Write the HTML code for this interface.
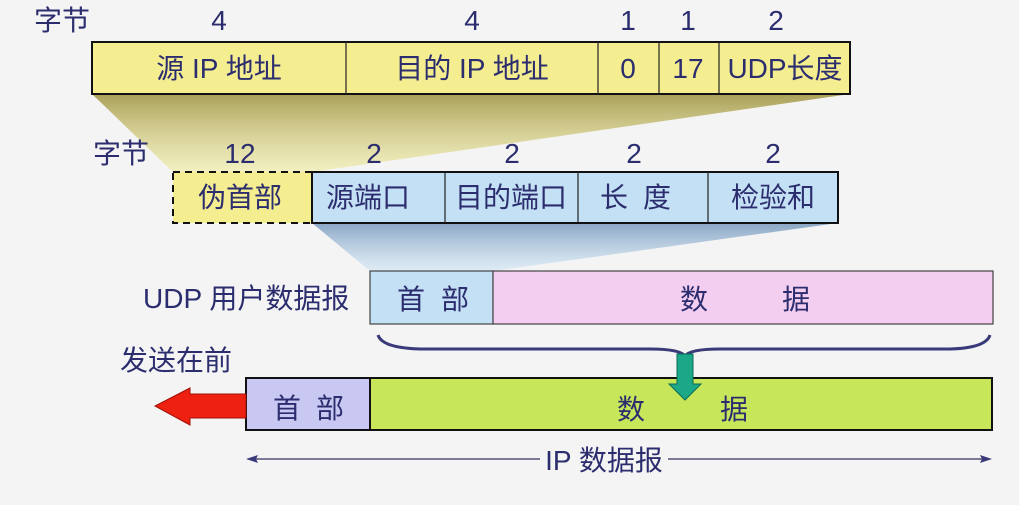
<!DOCTYPE html>
<html><head><meta charset="utf-8"><style>
html,body{margin:0;padding:0;background:#f4f4f4;}
svg{display:block}
text{font-family:"Liberation Sans","Noto Sans CJK SC",sans-serif;fill:#2b2d6e;font-size:28px;}
</style></head><body>
<svg width="1019" height="505" viewBox="0 0 1019 505">
<defs>
<linearGradient id="gy" x1="0" y1="0" x2="0" y2="1"><stop offset="0" stop-color="#aaa05a"/><stop offset="1" stop-color="#f0eca0" stop-opacity="0.6"/></linearGradient>
<linearGradient id="gb" x1="0" y1="0" x2="0" y2="1"><stop offset="0" stop-color="#8aa6c4"/><stop offset="1" stop-color="#d0e6f6" stop-opacity="0.6"/></linearGradient>
</defs>
<rect width="1019" height="505" fill="#f4f4f4"/>
<polygon points="92,94 850,94 312,172 173,172" fill="url(#gy)"/>
<polygon points="312,223 838,223 493,271 370,271" fill="url(#gb)"/>
<text x="34" y="30">字节</text>
<text x="219" y="30" text-anchor="middle">4</text>
<text x="472" y="30" text-anchor="middle">4</text>
<text x="628" y="30" text-anchor="middle">1</text>
<text x="688" y="30" text-anchor="middle">1</text>
<text x="776" y="30" text-anchor="middle">2</text>
<rect x="92" y="42" width="758" height="52" fill="#f5ee90" stroke="#111" stroke-width="2"/>
<g stroke="#222" stroke-width="1.2"><line x1="346" y1="42" x2="346" y2="94"/><line x1="598" y1="42" x2="598" y2="94"/><line x1="659" y1="42" x2="659" y2="94"/><line x1="719" y1="42" x2="719" y2="94"/></g>
<text x="219" y="78" text-anchor="middle">源 IP 地址</text>
<text x="472" y="78" text-anchor="middle">目的 IP 地址</text>
<text x="628" y="78" text-anchor="middle">0</text>
<text x="688" y="78" text-anchor="middle">17</text>
<text x="785" y="78" text-anchor="middle">UDP长度</text>
<text x="93" y="163">字节</text>
<text x="240" y="163" text-anchor="middle">12</text>
<text x="374" y="163" text-anchor="middle">2</text>
<text x="512" y="163" text-anchor="middle">2</text>
<text x="634" y="163" text-anchor="middle">2</text>
<text x="773" y="163" text-anchor="middle">2</text>
<rect x="173" y="172" width="139" height="51" fill="#f5ee90" stroke="#111" stroke-width="2" stroke-dasharray="7,5"/>
<rect x="312" y="172" width="526" height="51" fill="#c4e0f4" stroke="#111" stroke-width="2"/>
<g stroke="#222" stroke-width="1.2"><line x1="445" y1="172" x2="445" y2="223"/><line x1="578" y1="172" x2="578" y2="223"/><line x1="708" y1="172" x2="708" y2="223"/></g>
<text x="240" y="207" text-anchor="middle">伪首部</text>
<text x="368" y="207" text-anchor="middle">源端口</text>
<text x="511" y="207" text-anchor="middle">目的端口</text>
<text x="614" y="207" text-anchor="middle">长</text>
<text x="657" y="207" text-anchor="middle">度</text>
<text x="773" y="207" text-anchor="middle">检验和</text>
<text x="143" y="308">UDP 用户数据报</text>
<rect x="370" y="271" width="123" height="53" fill="#c4e0f4" stroke="#444" stroke-width="1.2"/>
<rect x="493" y="271" width="500" height="53" fill="#f4cef0" stroke="#444" stroke-width="1.2"/>
<text x="411" y="309" text-anchor="middle">首</text>
<text x="455" y="309" text-anchor="middle">部</text>
<text x="694" y="309" text-anchor="middle">数</text>
<text x="796" y="309" text-anchor="middle">据</text>
<path d="M378,335 Q382,348 420,349 L650,349 Q680,349 685,356 Q690,349 720,349 L950,349 Q986,348 990,335" fill="none" stroke="#3a3a7a" stroke-width="3"/>
<text x="120" y="370">发送在前</text>
<rect x="246" y="378" width="124" height="52" fill="#c8c8f2" stroke="#111" stroke-width="2"/>
<rect x="370" y="378" width="622" height="52" fill="#c8e65a" stroke="#111" stroke-width="2"/>
<text x="287" y="418" text-anchor="middle">首</text>
<text x="330" y="418" text-anchor="middle">部</text>
<text x="631" y="419" text-anchor="middle">数</text>
<text x="734" y="419" text-anchor="middle">据</text>
<polygon points="677,354 693,354 693,384 701,384 685,400 669,384 677,384" fill="#1aa888" stroke="#0a6a55" stroke-width="1"/>
<polygon points="246,394 246,418 190,418 190,425 155,406 190,388 190,394" fill="#ee2010" stroke="#a01008" stroke-width="1"/>
<line x1="250" y1="459" x2="540" y2="459" stroke="#555577" stroke-width="1.5"/>
<polygon points="246,459 258,455 256,459 258,463" fill="#3a3a7a"/>
<line x1="668" y1="459" x2="988" y2="459" stroke="#555577" stroke-width="1.5"/>
<polygon points="992,459 980,455 982,459 980,463" fill="#3a3a7a"/>
<text x="604" y="470" text-anchor="middle">IP 数据报</text>
</svg>
</body></html>
